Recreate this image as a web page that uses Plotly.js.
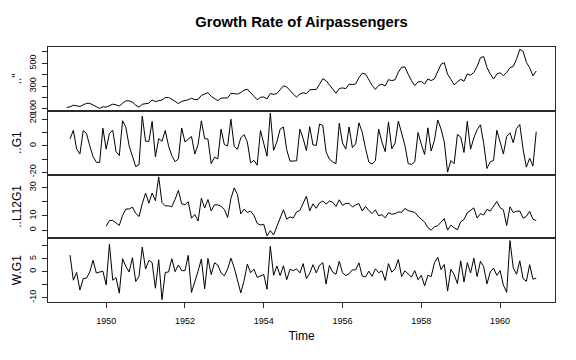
<!DOCTYPE html>
<html>
<head>
<meta charset="utf-8">
<script src="https://cdn.plot.ly/plotly-3.0.1.min.js"></script>
<style>html,body{margin:0;padding:0;background:#fff;}#chart{width:576px;height:360px;}</style>
</head>
<body>
<div id="chart"></div>
<script>
// AirPassengers, monthly, Jan 1949 - Dec 1960
const passengers = [
112,118,132,129,121,135,148,148,136,119,104,118,
115,126,141,135,125,149,170,170,158,133,114,140,
145,150,178,163,172,178,199,199,184,162,146,166,
171,180,193,181,183,218,230,242,209,191,172,194,
196,196,236,235,229,243,264,272,237,211,180,201,
204,188,235,227,234,264,302,293,259,229,203,229,
242,233,267,269,270,315,364,347,312,274,237,278,
284,277,317,313,318,374,413,405,355,306,271,306,
315,301,356,348,355,422,465,467,404,347,305,336,
340,318,362,348,363,435,491,505,404,359,310,337,
360,342,406,396,420,472,548,559,463,407,362,405,
417,391,419,461,472,535,622,606,508,461,390,432];
const passengersStart = 1949; // Jan 1949

// ..G1 : monthly growth rate (%), Feb 1949 - Dec 1960
const g1 = [
5.4,11.9,-2.3,-6.2,11.6,9.6,0,-8.1,-12.5,-12.6,13.5,
-2.5,9.6,11.9,-4.3,-7.4,19.2,14.1,0,-7.1,-15.8,-14.3,22.8,
3.6,3.4,18.7,-8.4,5.5,3.5,11.8,0,-7.5,-12.0,-9.9,13.7,
3.0,5.3,7.2,-6.2,1.1,19.1,5.5,5.2,-13.6,-8.6,-9.9,12.8,
1.0,0,20.4,-0.4,-2.6,6.1,8.6,3.0,-12.9,-11.0,-14.7,11.7,
1.5,-7.8,25.0,-3.4,3.1,12.8,14.4,-3.0,-11.6,-11.6,-11.4,12.8,
5.7,-3.7,14.6,0.7,0.4,16.7,15.6,-4.7,-10.1,-12.2,-13.5,17.3,
2.2,-2.5,14.4,-1.3,1.6,17.6,10.4,-1.9,-12.3,-13.8,-11.4,12.9,
2.9,-4.4,18.3,-2.2,2.0,18.9,10.2,0.4,-13.5,-14.1,-12.1,10.2,
1.2,-6.5,13.8,-3.9,4.3,19.8,12.9,2.9,-20.0,-11.1,-13.6,8.7,
6.8,-5.0,18.7,-2.5,6.1,12.4,16.1,2.0,-17.2,-12.1,-11.1,11.9,
3.0,-6.2,7.2,10.0,2.4,13.3,16.3,-2.6,-16.2,-9.3,-15.4,10.8];
const g1Start = 1949 + 1/12;

// ..L12G1 : growth over 12 months (%), Jan 1950 - Dec 1960
const l12g1 = [
2.7,6.8,6.8,4.7,3.3,10.4,14.9,14.9,16.2,11.8,9.6,18.6,
26.1,19.0,26.2,20.7,37.6,19.5,17.1,17.1,16.5,21.8,28.1,18.6,
17.9,20.0,8.4,11.0,6.4,22.5,15.6,21.6,13.6,17.9,17.8,16.9,
14.6,8.9,22.3,29.8,25.1,11.5,14.8,12.4,13.4,10.5,4.7,3.6,
4.1,-4.1,-0.4,-3.4,2.2,8.6,14.4,7.7,9.3,8.5,12.8,13.9,
18.6,23.9,13.6,18.5,15.4,19.3,20.5,18.4,20.5,19.7,16.7,21.4,
17.4,18.9,18.7,16.4,17.8,18.7,13.5,16.7,13.8,11.7,14.3,10.1,
10.9,8.7,12.3,11.2,11.6,12.8,12.6,15.3,13.8,13.4,12.5,9.8,
7.9,5.6,1.7,0,2.3,3.1,5.6,8.1,0,3.5,1.6,0.3,
5.9,7.5,12.2,13.8,15.7,8.5,11.6,10.7,14.6,13.4,16.8,20.2,
15.8,14.3,3.2,16.4,12.4,13.3,13.5,8.4,9.7,13.3,7.7,6.7];
const l12g1Start = 1950;

// W.G1 : seasonally adjusted monthly growth, Feb 1949 - Dec 1960
const wg1 = [
6.4,-3.3,-0.3,-7.1,-2.7,-2.5,-0.1,4.4,-0.5,-0.1,0.2,
-5.1,10.6,-3.3,-2.3,-8.3,5.0,2.0,-0.1,5.4,-3.8,-1.8,9.5,
1.0,4.4,3.5,-6.4,4.6,-10.8,-0.3,-0.1,5.0,0.0,2.6,0.4,
0.4,6.3,-8.0,-4.2,0.2,4.9,-6.6,5.1,-1.1,3.4,2.6,-0.5,
-1.6,1.0,5.2,1.6,-3.5,-8.2,-3.5,2.9,-0.4,1.0,-2.2,-1.6,
-1.1,-6.8,9.8,-1.4,2.2,-1.5,2.3,-3.1,0.9,0.4,1.1,-0.5,
3.1,-2.7,-0.6,2.7,-0.5,2.5,3.5,-4.8,2.4,-0.2,-1.0,4.0,
-0.4,-1.5,-0.8,0.7,0.7,3.4,-1.7,-2.0,0.2,-1.8,1.1,-0.4,
0.3,-3.4,3.1,-0.2,1.1,4.7,-1.9,0.3,-1.0,-2.1,0.4,-3.1,
-1.4,-5.5,-1.4,-1.9,3.4,5.6,0.8,2.8,-7.5,0.9,-1.1,-4.6,
4.2,-4.0,3.5,-0.5,5.2,-1.9,4.0,1.9,-4.7,-0.1,1.4,-1.4,
0.4,-5.2,-8.0,12.0,1.5,-1.0,4.2,-2.7,-3.7,2.7,-2.9,-2.5];
const wg1Start = 1949 + 1/12;

const panelLabels = ['.."', '..G1', '..L12G1', 'W.G1'];
const yTickVals = [[100,200,300,400,500,600],[-20,-10,0,10,20],[0,10,20,30],[-10,-5,0,5,10]];
const yTickText = [['100','','300','','500',''],['-20','','0','','20'],['0','10','','30'],['-10','','0','5','']];
const xTickVals = [1950,1952,1954,1956,1958,1960];

function timeAxis(start, n){ const t=[]; for(let i=0;i<n;i++) t.push(start + i/12); return t; }
function padRange(arr, f){ let lo=Math.min(...arr), hi=Math.max(...arr); const d=(hi-lo)*f; return [lo-d, hi+d]; }

const series = [
  {y: passengers, start: passengersStart},
  {y: g1, start: g1Start},
  {y: l12g1, start: l12g1Start},
  {y: wg1, start: wg1Start}
];

const tAll = timeAxis(passengersStart, passengers.length);
const xr = padRange(tAll, 0.04);

const frame = '#2a2a2a';
const FONT = 'Liberation Sans, Arial, Helvetica, sans-serif';
const data = [];
const layout = {
  width: 576, height: 360,
  margin: {l: 48, r: 21, t: 47, b: 58, pad: 0},
  paper_bgcolor: '#fff', plot_bgcolor: '#fff',
  showlegend: false,
  font: {family: FONT, color: '#000', size: 9},
  title: {text: 'Growth Rate of Airpassengers', font: {family: FONT, size: 14.8, color: '#000', weight: 'bold'},
          x: 0.5, xref: 'paper', xanchor: 'center', y: 1 - 21.7/360, yref: 'container', yanchor: 'middle'}
};

const n = series.length;
series.forEach((s, i) => {
  const k = i + 1;
  const xa = k === 1 ? 'x' : 'x' + k;
  const ya = k === 1 ? 'y' : 'y' + k;
  data.push({type: 'scatter', mode: 'lines', x: timeAxis(s.start, s.y.length), y: s.y,
             xaxis: xa, yaxis: ya, line: {color: '#000', width: 1}, hoverinfo: 'skip'});
  const top = 1 - i / n, bot = 1 - (i + 1) / n;
  const isBottom = (i === n - 1);
  const xax = {
    anchor: ya, range: xr, domain: [0, 1],
    showline: true, mirror: true, linecolor: frame, linewidth: 1,
    showgrid: false, zeroline: false,
    ticks: isBottom ? 'outside' : '', ticklen: 5, tickcolor: frame, tickwidth: 1,
    tickvals: xTickVals, showticklabels: isBottom,
    tickfont: {family: FONT, size: 9, color: '#000'},
    ticklabelstandoff: 5,
    title: isBottom ? {text: 'Time', font: {family: FONT, size: 12, color: '#000'}, standoff: 6} : {text: ''}
  };
  if (!isBottom) xax.matches = 'x' + n;
  layout[(k === 1 ? 'xaxis' : 'xaxis' + k)] = xax;
  layout[(k === 1 ? 'yaxis' : 'yaxis' + k)] = {
    anchor: xa, domain: [bot, top], range: padRange(s.y, 0.04),
    showline: true, mirror: true, linecolor: frame, linewidth: 1,
    showgrid: false, zeroline: false,
    ticks: 'outside', ticklen: 5, tickcolor: frame, tickwidth: 1,
    tickvals: yTickVals[i], ticktext: yTickText[i], tickangle: -90,
    tickfont: {family: FONT, size: 9, color: '#000'},
    ticklabelstandoff: 2,
    title: {text: panelLabels[i], font: {family: FONT, size: 12, color: '#000'}, standoff: 4}
  };
});

Plotly.newPlot('chart', data, layout, {displayModeBar: false, staticPlot: true});
</script>
</body>
</html>
